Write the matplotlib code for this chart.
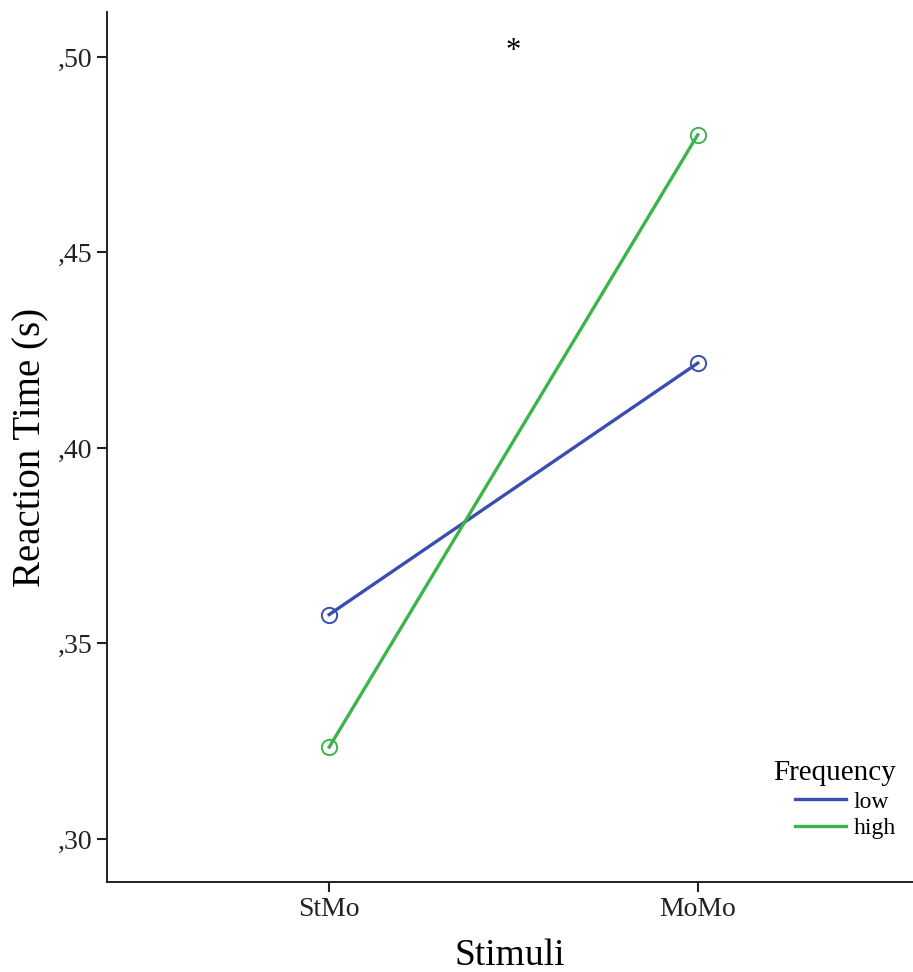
import matplotlib
matplotlib.use("Agg")
import matplotlib.pyplot as plt

categories = ["StMo", "MoMo"]
low_values = [0.3574, 0.4217]
high_values = [0.3235, 0.4801]
series_names = ["low", "high"]
yticks = [0.30, 0.35, 0.40, 0.45, 0.50]
ytick_labels = [",30", ",35", ",40", ",45", ",50"]

plt.rcParams['font.family'] = ['Liberation Serif', 'DejaVu Serif']

fig = plt.figure(figsize=(9.13, 9.72), dpi=100)
ax = fig.add_axes([0.1172, 0.0926, 0.8828, 0.8951])

x = list(range(len(categories)))
blue = "#3a4db0"
green = "#3cb44b"
for vals, col, name in [(low_values, blue, series_names[0]), (high_values, green, series_names[1])]:
    ax.plot(x, vals, color=col, lw=2.4, label=name)
    ax.plot(x, vals, 'o', color=col, mfc='none', mec=col, ms=11, mew=1.4)

ax.set_xlim(-0.603, 1.584)
ax.set_ylim(0.2890, 0.5115)
ax.set_xticks(x)
ax.set_xticklabels(categories)
ax.set_yticks(yticks)
ax.set_yticklabels(ytick_labels)
ax.tick_params(axis='both', labelsize=20, length=7, width=1.5, direction='out', colors='#222222')
for s in ['top', 'right']:
    ax.spines[s].set_visible(False)
for s in ['left', 'bottom']:
    ax.spines[s].set_linewidth(1.4)
    ax.spines[s].set_color('#222222')

ax.set_xlabel("Stimuli", fontsize=27, labelpad=12)
ax.set_ylabel("Reaction Time (s)", fontsize=28, labelpad=6)

ax.text(0.5, 0.5015, "*", fontsize=22, ha='center', va='center')

leg = ax.legend(title="Frequency", loc='lower right', bbox_to_anchor=(1.005, 0.025),
                frameon=False, fontsize=17, title_fontsize=21,
                handlelength=2.2, handletextpad=0.3, labelspacing=0.2)
leg._legend_box.align = "right"

fig.savefig("out.png", dpi=100, facecolor='white')
